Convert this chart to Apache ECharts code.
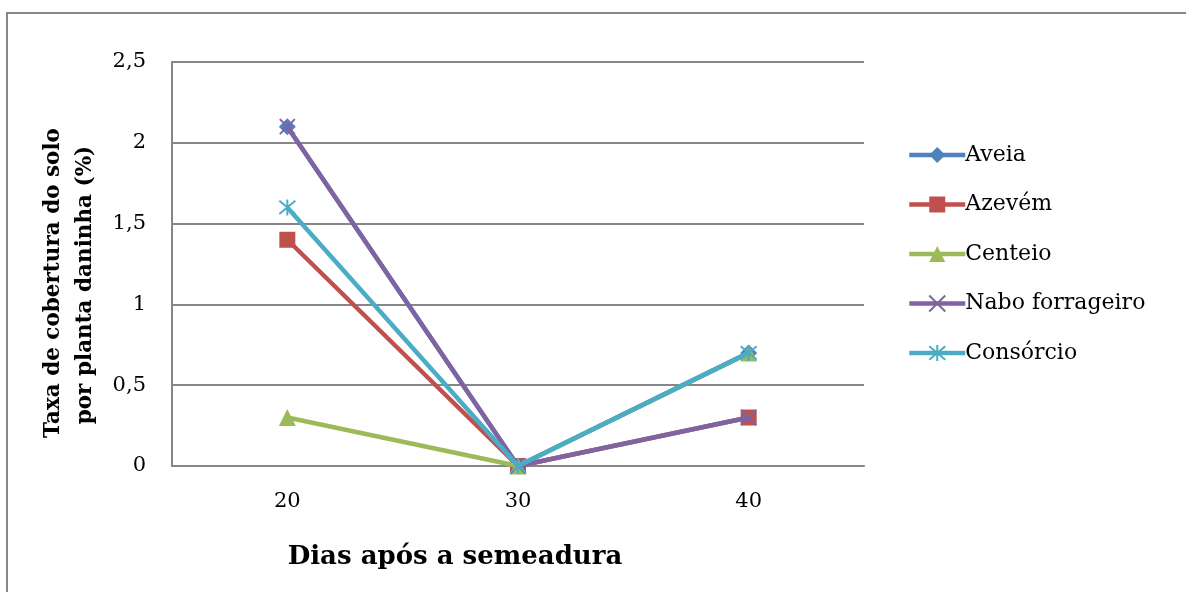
<!DOCTYPE html>
<html>
<head>
<meta charset="utf-8">
<script src="https://cdn.jsdelivr.net/npm/echarts@6/dist/echarts.min.js"></script>
<style>
  html, body { margin: 0; padding: 0; background: #fff; }
  #chart { width: 1186px; height: 592px; }
</style>
</head>
<body>
<div id="chart"></div>
<script>
// Dias após a semeadura
const categories = ['20', '30', '40'];

// Taxa de cobertura do solo por planta daninha (%)
const aveia = [2.1, 0, 0.7];
const azevem = [1.4, 0, 0.3];
const centeio = [0.3, 0, 0.7];
const nabo = [2.1, 0, 0.3];
const consorcio = [1.6, 0, 0.7];

const seriesNames = ['Aveia', 'Azevém', 'Centeio', 'Nabo forrageiro', 'Consórcio'];
const seriesData = [aveia, azevem, centeio, nabo, consorcio];
const colors = ['#4F81BD', '#C0504D', '#9BBB59', '#8064A2', '#4BACC6'];

const xMark = 'path://M0,0 L10,10 M10,0 L0,10';
const starMark = 'path://M0,0 L10,10 M10,0 L0,10 M5,-1 L5,11';
const symbols = ['diamond', 'rect', 'triangle', xMark, starMark];
const symbolSizes = [17, 16, 17, 15, 16];

const FONT = '"DejaVu Serif", "Liberation Serif", serif';

const chart = echarts.init(document.getElementById('chart'));

const series = seriesNames.map((name, i) => {
  const isStroke = i >= 3;
  return {
    name,
    type: 'line',
    data: seriesData[i],
    symbol: symbols[i],
    symbolSize: symbolSizes[i],
    showAllSymbol: true,
    lineStyle: { color: colors[i], width: 4.5 },
    itemStyle: isStroke
      ? { color: colors[i], borderColor: colors[i], borderWidth: 2 }
      : { color: colors[i] },
    emphasis: { disabled: true },
    z: 2 + i
  };
});

chart.setOption({
  animation: false,
  backgroundColor: '#fff',
  color: colors,
  grid: { left: 172, top: 62, width: 692, height: 404, containLabel: false },
  legend: {
    orient: 'vertical',
    left: 902,
    top: 139,
    itemWidth: 56,
    itemHeight: 20,
    itemGap: 27.5,
    lineStyle: { width: 4.5 },
    textStyle: { fontFamily: FONT, fontSize: 22, color: '#000', padding: [0, 0, 0, -5] },
    data: seriesNames
  },
  xAxis: {
    type: 'category',
    data: categories,
    boundaryGap: true,
    axisLine: { show: true, lineStyle: { color: '#868686', width: 2 } },
    axisTick: { show: false },
    axisLabel: { fontFamily: FONT, fontSize: 21, color: '#000', margin: 25 },
    splitLine: { show: false }
  },
  yAxis: {
    type: 'value',
    min: 0,
    max: 2.5,
    interval: 0.5,
    axisLine: { show: true, lineStyle: { color: '#868686', width: 2 } },
    axisTick: { show: false },
    axisLabel: {
      fontFamily: FONT, fontSize: 21, color: '#000', margin: 26,
      formatter: v => String(v).replace('.', ',')
    },
    splitLine: { show: true, lineStyle: { color: '#868686', width: 2 } }
  },
  graphic: [
    {
      type: 'rect',
      shape: { x: 7, y: 13, width: 1400, height: 800 },
      style: { fill: 'none', stroke: '#868686', lineWidth: 2 },
      silent: true,
      z: -10
    },
    {
      type: 'text',
      x: 455, y: 557,
      style: {
        text: 'Dias após a semeadura',
        font: 'bold 26px ' + FONT,
        fill: '#000',
        align: 'center',
        verticalAlign: 'middle'
      }
    },
    {
      type: 'text',
      x: 53, y: 283,
      rotation: Math.PI / 2,
      style: {
        text: 'Taxa de cobertura do solo',
        font: 'bold 21.5px ' + FONT,
        fill: '#000',
        align: 'center',
        verticalAlign: 'middle'
      }
    },
    {
      type: 'text',
      x: 85, y: 285,
      rotation: Math.PI / 2,
      style: {
        text: 'por planta daninha (%)',
        font: 'bold 21.5px ' + FONT,
        fill: '#000',
        align: 'center',
        verticalAlign: 'middle'
      }
    }
  ],
  series
});
</script>
</body>
</html>
